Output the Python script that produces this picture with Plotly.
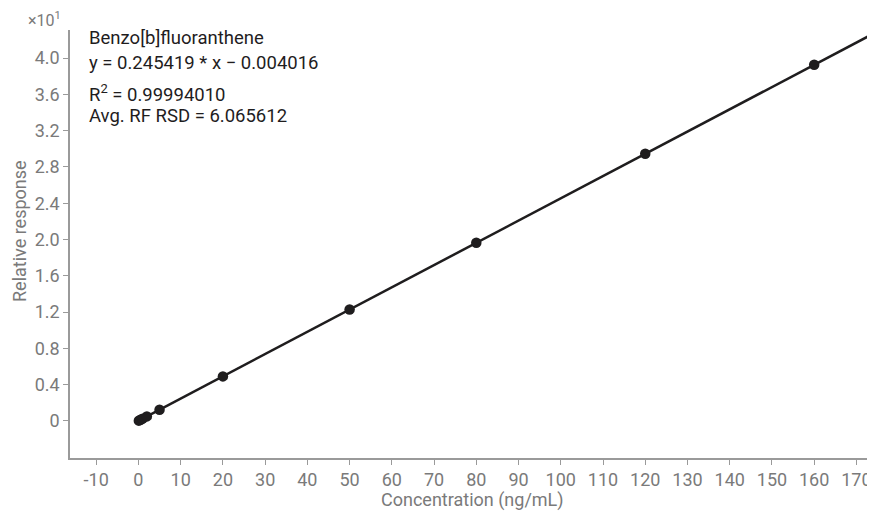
import plotly.graph_objects as go

conc = [0.1, 0.5, 1, 2, 5, 20, 50, 80, 120, 160]
response = [0.02, 0.12, 0.24, 0.49, 1.22, 4.90, 12.27, 19.63, 29.45, 39.26]
slope = 0.245419
intercept = -0.004016
fit_x = [0, 176]
fit_y = [slope * v + intercept for v in fit_x]

x_ticks = list(range(-10, 171, 10))
x_ticktext = [str(v) for v in x_ticks]
y_tickvals = [0, 4, 8, 12, 16, 20, 24, 28, 32, 36, 40]
y_ticktext = ["0", "0.4", "0.8", "1.2", "1.6", "2.0", "2.4", "2.8", "3.2", "3.6", "4.0"]
info_lines = ["Benzo[b]fluoranthene", "y = 0.245419 * x \u2212 0.004016",
              "R<sup>2</sup> = 0.99994010", "Avg. RF RSD = 6.065612"]

GRAY = "#7a7a7a"
DARK = "#1f1d1e"

fig = go.Figure()
fig.add_trace(go.Scatter(x=fit_x, y=fit_y, mode="lines",
                         line=dict(color=DARK, width=2.5), hoverinfo="skip", showlegend=False))
fig.add_trace(go.Scatter(x=conc, y=response, mode="markers",
                         marker=dict(color=DARK, size=10.5), showlegend=False))

axis_common = dict(showgrid=False, zeroline=False, showline=True, linecolor="#9a9a9a", linewidth=1.5,
                   ticks="outside", ticklen=5, tickcolor="#9a9a9a",
                   tickfont=dict(family="Roboto", size=18, color=GRAY))
fig.update_xaxes(range=[-16.2, 174.4], tickvals=x_ticks, ticktext=x_ticktext, **axis_common)
fig.update_yaxes(range=[-4.1, 43.1], tickvals=y_tickvals, ticktext=y_ticktext, **axis_common)

# plot area in page px: left 70, right 875, top 30, bottom 458
def px_x(p):
    return (p - 70) / 805

def px_y(p):
    return 1 - (p - 30) / 428

fig.add_annotation(x=px_x(19), y=px_y(231), xref="paper", yref="paper", text="Relative response",
                   textangle=-90, showarrow=False, xanchor="center", yanchor="middle",
                   font=dict(family="Roboto", size=18, color=GRAY))
fig.add_annotation(x=px_x(472), y=px_y(500), xref="paper", yref="paper", text="Concentration (ng/mL)",
                   showarrow=False, xanchor="center", yanchor="middle",
                   font=dict(family="Roboto", size=18, color=GRAY))
fig.add_annotation(x=px_x(44), y=px_y(20), xref="paper", yref="paper", xanchor="center", yanchor="middle",
                   text="\u00d710<sup>1</sup>", showarrow=False,
                   font=dict(family="Roboto", size=16, color=GRAY))
ys = [38, 63, 93, 116]
for t, yp in zip(info_lines, ys):
    fig.add_annotation(x=px_x(87), y=px_y(yp), xref="paper", yref="paper",
                       xanchor="left", yanchor="middle", text=t, showarrow=False,
                       font=dict(family="Roboto", size=18.5, color=DARK))

# page body has an 8px offset; compensate so the plot area lands at the target pixels
fig.update_layout(width=867, height=504, margin=dict(l=62, r=0, t=22, b=54),
                  plot_bgcolor="white", paper_bgcolor="white")
fig.write_html("out.html")
